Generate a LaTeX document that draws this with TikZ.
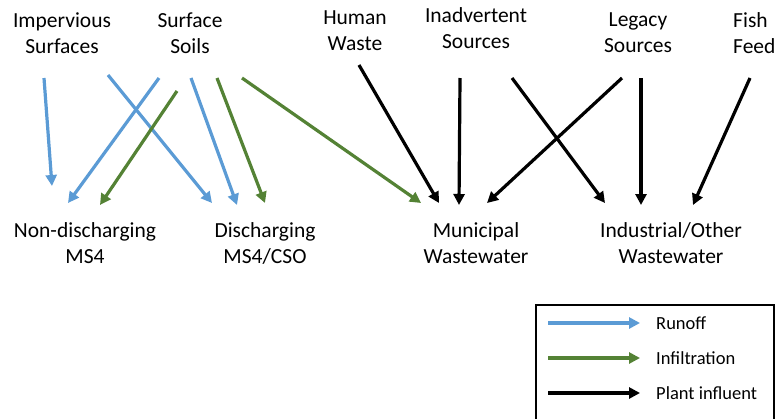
\documentclass[tikz,border=0pt]{standalone}
\usepackage{fontspec}
\setmainfont{Carlito}
\usepackage{tikz}
\usetikzlibrary{arrows.meta,positioning}

\definecolor{runblue}{HTML}{5B9BD5}
\definecolor{infgreen}{HTML}{548235}

\tikzset{
  flow/.style={line width=3.2pt,-{Triangle[length=11pt,width=11pt]}},
  runoff/.style={flow,draw=runblue},
  infil/.style={flow,draw=infgreen},
  plant/.style={flow,draw=black},
  lbl/.style={align=center,inner sep=0pt,font=\fontsize{21.5}{26}\selectfont},
  keytext/.style={anchor=west,inner sep=0pt,font=\fontsize{18.5}{22}\selectfont}
}

\begin{document}
\begin{tikzpicture}[x=1pt,y=-1pt]
  \useasboundingbox (0,0) rectangle (775,418);

  % Sources
  \node[lbl] (imp) at (62,33) {Impervious\\Surfaces};
  \node[lbl] (soil) at (190,33) {Surface\\Soils};
  \node[lbl] (human) at (355,31) {Human\\Waste};
  \node[lbl] (inad) at (476,28) {Inadvertent\\Sources};
  \node[lbl] (legacy) at (638,33) {Legacy\\Sources};
  \node[lbl,align=left,anchor=west] (fish) at (733,33) {Fish\\Feed};

  % Receiving systems
  \node[lbl] (nd) at (85,243) {Non-discharging\\MS4};
  \node[lbl] (dis) at (265,243) {Discharging\\MS4/CSO};
  \node[lbl] (mun) at (476,243) {Municipal\\Wastewater};
  \node[lbl] (ind) at (671,243) {Industrial/Other\\Wastewater};

  % Runoff
  \draw[runoff] ([shift={(-18,45)}]imp.center) -- ([shift={(-33,-57)}]nd.center);
  \draw[runoff] ([shift={(-31,45)}]soil.center) -- ([shift={(-17,-40)}]nd.center);
  \draw[runoff] ([shift={(46,42)}]imp.center) -- ([shift={(-53,-40)}]dis.center);
  \draw[runoff] ([shift={(1,45)}]soil.center) -- ([shift={(-28,-38)}]dis.center);

  % Infiltration
  \draw[infil] ([shift={(-13,58)}]soil.center) -- ([shift={(15,-38)}]nd.center);
  \draw[infil] ([shift={(27,45)}]soil.center) -- ([shift={(0,-40)}]dis.center);
  \draw[infil] ([shift={(52,45)}]soil.center) -- ([shift={(-55,-40)}]mun.center);

  % Plant influent
  \draw[plant] ([shift={(4,34)}]human.center) -- ([shift={(-37,-40)}]mun.center);
  \draw[plant] ([shift={(-16,50)}]inad.center) -- ([shift={(-17,-38)}]mun.center);
  \draw[plant] ([shift={(-16,45)}]legacy.center) -- ([shift={(11,-40)}]mun.center);
  \draw[plant] ([shift={(36,50)}]inad.center) -- ([shift={(-66,-40)}]ind.center);
  \draw[plant] ([shift={(3,45)}]legacy.center) -- ([shift={(-30,-38)}]ind.center);
  \draw[plant] ([shift={(17,45)}]fish.west) -- ([shift={(22,-38)}]ind.center);

  % Legend
  \draw[line width=1.5pt] (536,305) rectangle (774,425);
  \node[keytext] (krun) at (656,323) {Runoff};
  \node[keytext] (kinf) at (656,358) {Infiltration};
  \node[keytext] (kpl) at (656,393) {Plant influent};
  \draw[runoff] (548,323) -- (640,323);
  \draw[infil] (548,358) -- (640,358);
  \draw[plant] (548,393) -- (640,393);
\end{tikzpicture}
\end{document}
